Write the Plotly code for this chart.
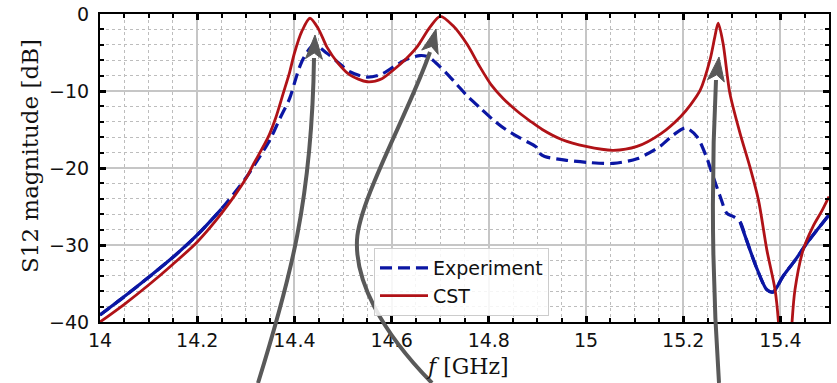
import plotly.graph_objects as go

# ---------------- data ----------------
freq_cst = [14.00, 14.05, 14.10, 14.15, 14.20, 14.25, 14.30, 14.315, 14.346, 14.362,
            14.377, 14.39, 14.40, 14.415, 14.432, 14.45, 14.467, 14.49, 14.514, 14.55,
            14.58, 14.603, 14.63, 14.652, 14.679, 14.70, 14.726, 14.755, 14.782, 14.805,
            14.83, 14.858, 14.885, 14.91, 14.95, 15.00, 15.056, 15.105, 15.155, 15.195,
            15.215, 15.235, 15.255, 15.265, 15.272, 15.282, 15.296, 15.317, 15.337, 15.355,
            15.372, 15.389, 15.396, 15.41, 15.424, 15.43, 15.447, 15.467, 15.485, 15.50]
s12_cst = [-40.0, -37.7, -35.2, -32.5, -29.6, -25.9, -21.4, -19.6, -16.0, -13.4,
           -10.3, -7.6, -5.1, -2.3, -0.55, -2.0, -4.3, -6.4, -7.9, -8.8,
           -8.4, -7.3, -5.8, -4.3, -1.7, -0.3, -1.5, -3.9, -6.9, -9.2,
           -11.0, -12.6, -13.9, -15.0, -16.3, -17.2, -17.7, -17.2, -15.5, -13.3,
           -11.8, -9.9, -6.0, -3.0, -1.2, -3.8, -10.3, -15.5, -19.8, -24.2,
           -30.6, -35.8, -40.0, -58.0, -40.0, -35.8, -30.6, -27.6, -25.6, -23.7]

freq_exp = [14.00, 14.05, 14.10, 14.15, 14.20, 14.25, 14.30, 14.33, 14.35, 14.37,
            14.39, 14.40, 14.41, 14.42, 14.44, 14.467, 14.49, 14.514, 14.55, 14.58,
            14.603, 14.63, 14.658, 14.672, 14.685, 14.713, 14.735, 14.755, 14.782, 14.81,
            14.835, 14.864, 14.898, 14.905, 14.915, 14.96, 15.008, 15.056, 15.105, 15.152,
            15.18, 15.205, 15.228, 15.248, 15.262, 15.275, 15.29, 15.303, 15.317, 15.33,
            15.35, 15.372, 15.385, 15.405, 15.43, 15.454, 15.50]
s12_exp = [-39.1, -36.7, -34.2, -31.6, -28.7, -25.3, -21.3, -18.4, -16.3, -13.6,
           -11.0, -9.0, -7.0, -5.6, -4.0, -5.1, -6.3, -7.5, -8.2, -7.8,
           -6.9, -5.9, -5.4, -5.5, -6.0, -7.7, -9.2, -10.6, -12.2, -13.8,
           -15.0, -16.1, -17.3, -18.1, -18.5, -19.0, -19.3, -19.4, -18.8, -17.2,
           -15.7, -14.8, -15.9, -18.6, -21.2, -23.5, -25.9, -26.3, -27.0, -29.3,
           -32.8, -35.8, -36.1, -34.1, -32.0, -29.8, -26.1]

x_ticks = [14.0, 14.2, 14.4, 14.6, 14.8, 15.0, 15.2, 15.4]
x_tick_labels = ["14", "14.2", "14.4", "14.6", "14.8", "15", "15.2", "15.4"]
y_ticks = [0, -10, -20, -30, -40]

# ---------------- layout geometry ----------------
W, H = 837, 383
L, R, T, B = 100, 8, 14, 61
PW, PH = W - L - R, H - T - B


def to_paper(px, py):
    return (px - L) / PW, (H - B - py) / PH


EXP_COLOR = "#0b16a3"
CST_COLOR = "#b01217"

fig = go.Figure()
fig.add_trace(go.Scatter(
    x=freq_exp, y=s12_exp, mode="lines", name="Experiment",
    line=dict(color=EXP_COLOR, width=3.2, dash="12px,6px", shape="spline", smoothing=0.8),
))
# where the measured trace is dense, its dashes merge into a continuous line
for lo, hi in [(0, 6), (48, len(freq_exp))]:
    fig.add_trace(go.Scatter(
        x=freq_exp[lo:hi], y=s12_exp[lo:hi], mode="lines", showlegend=False,
        hoverinfo="skip",
        line=dict(color=EXP_COLOR, width=3.2, shape="spline", smoothing=0.8),
    ))
fig.add_trace(go.Scatter(
    x=freq_cst, y=s12_cst, mode="lines", name="CST",
    line=dict(color=CST_COLOR, width=2.8, shape="spline", smoothing=0.8),
))

axis_common = dict(
    showline=True, linecolor="black", linewidth=2, mirror="allticks",
    ticks="inside", ticklen=6, tickwidth=3, tickcolor="black",
    showgrid=True, gridcolor="#c6c6c6", gridwidth=1.5,
    zeroline=False, automargin=False,
    tickfont=dict(family="DejaVu Sans", size=19, color="#111"),
)

fig.update_xaxes(
    range=[14, 15.5], tickvals=x_ticks, ticktext=x_tick_labels,
    minor=dict(dtick=0.05, ticks="inside", ticklen=4, tickwidth=2, tickcolor="black",
               showgrid=True, gridcolor="#bdbdbd", griddash="dot", gridwidth=1),
    **axis_common,
)
fig.update_yaxes(
    range=[-40, 0], tickvals=y_ticks, ticklabelstandoff=5,
    minor=dict(dtick=2, ticks="inside", ticklen=4, tickwidth=2, tickcolor="black",
               showgrid=True, gridcolor="#bdbdbd", griddash="dot", gridwidth=1),
    **axis_common,
)

# ---------------- curved arrows (decoration) ----------------
ARROW_COLOR = "#595959"
arrows = [
    dict(segs=[[(258, 383), (290, 280), (312, 200), (314, 58)]], tip=(315, 35)),
    dict(segs=[[(432, 383), (380, 330), (355, 280), (357, 240)],
               [(357, 240), (359, 200), (410, 110), (430, 52)]], tip=(436, 29)),
    dict(segs=[[(719, 383), (712, 280), (711, 180), (716, 80)]], tip=(719, 57)),
]
shapes = []
for a in arrows:
    parts = []
    for i, seg in enumerate(a["segs"]):
        pts = [to_paper(*p) for p in seg]
        if i == 0:
            parts.append(f"M {pts[0][0]:.5f},{pts[0][1]:.5f}")
        parts.append("C " + " ".join(f"{p[0]:.5f},{p[1]:.5f}" for p in pts[1:]))
    shapes.append(dict(type="path", xref="paper", yref="paper", path=" ".join(parts),
                       line=dict(color=ARROW_COLOR, width=4), layer="above"))
    ex, ey = a["segs"][-1][-1]
    tx, ty = a["tip"]
    dx, dy = tx - ex, ty - ey
    n = (dx * dx + dy * dy) ** 0.5
    ux, uy = dx / n, dy / n
    hl, hw = 24, 8.5
    bx, by = tx - ux * hl, ty - uy * hl
    px_, py_ = -uy, ux
    p1 = (bx + px_ * hw, by + py_ * hw)
    p2 = (bx - px_ * hw, by - py_ * hw)
    pm = (tx - ux * hl * 0.75, ty - uy * hl * 0.75)
    pp = [to_paper(*p) for p in [(tx, ty), p1, pm, p2]]
    path = "M " + " L ".join(f"{p[0]:.5f},{p[1]:.5f}" for p in pp) + " Z"
    shapes.append(dict(type="path", xref="paper", yref="paper", path=path,
                       line=dict(color=ARROW_COLOR, width=1), fillcolor=ARROW_COLOR,
                       layer="above"))

yx, yy = to_paper(30, 156)
xx, xy = to_paper(467, 366)
fig.update_layout(
    width=W, height=H,
    margin=dict(l=L, r=R, t=T, b=B, pad=0, autoexpand=False),
    paper_bgcolor="white", plot_bgcolor="white",
    shapes=shapes,
    showlegend=True,
    legend=dict(x=to_paper(374, 0)[0], y=to_paper(0, 248)[1], xanchor="left", yanchor="top",
                bgcolor="rgba(255,255,255,0.85)", bordercolor="#cccccc", borderwidth=1,
                font=dict(family="DejaVu Sans", size=19, color="#111"),
                itemwidth=48),
    annotations=[
        dict(text="S12 magnitude [dB]", textangle=-90, x=yx, y=yy, xref="paper", yref="paper",
             showarrow=False, font=dict(family="DejaVu Serif", size=23, color="#111"),
             xanchor="center", yanchor="middle"),
        dict(text="<i>f</i> [GHz]", x=xx, y=xy, xref="paper", yref="paper",
             showarrow=False, font=dict(family="DejaVu Serif", size=22, color="#111"),
             xanchor="center", yanchor="middle"),
    ],
)

fig.write_html(
    "out.html",
    config={"displayModeBar": False},
    post_script="document.body.style.margin='0px';document.body.style.overflow='hidden';",
)
